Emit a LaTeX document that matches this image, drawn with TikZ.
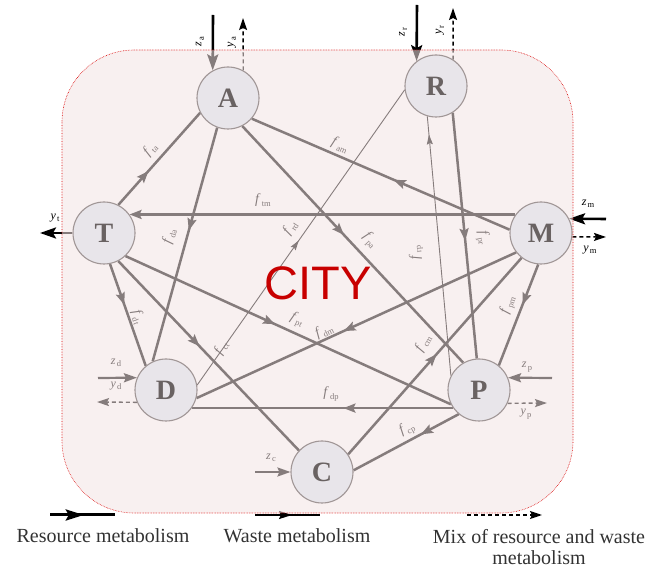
\documentclass[tikz,border=0pt]{standalone}
\usepackage{fontspec}
\setmainfont{Liberation Serif}
\newfontfamily\citysans{Liberation Sans}
\usetikzlibrary{arrows.meta,decorations.markings}

\pgfdeclarelayer{haze}
\pgfdeclarelayer{top}
\pgfsetlayers{main,haze,top}

\definecolor{hazefill}{RGB}{243,227,227}
\definecolor{nodefill}{RGB}{232,229,234}
\definecolor{nodeedge}{RGB}{160,150,150}
\definecolor{nodetext}{RGB}{105,98,98}
\definecolor{cityred}{RGB}{200,0,0}
\definecolor{legendtext}{RGB}{50,50,50}

% italic symbol with a lowered small subscript
\newcommand\flw[2]{\textit{#1}\kern1.2pt\raisebox{-0.45ex}{\fontsize{8.5}{9}\selectfont #2}}

\tikzset{
  sector/.style={circle, minimum size=62pt, inner sep=0pt, draw=nodeedge,
    fill=nodefill, line width=1.1pt,
    font=\fontsize{28}{28}\selectfont\bfseries, text=nodetext},
  flow/.style={line width=2.5pt, black},
  thinflow/.style={line width=0.9pt, black},
  midarrow/.style={postaction={decorate}, decoration={markings,
    mark=at position #1 with {\arrow{Stealth[length=12pt,width=9pt,inset=2pt]}}}},
  thinarrow/.style={postaction={decorate}, decoration={markings,
    mark=at position #1 with {\arrow{Stealth[length=10pt,width=6pt,inset=1.5pt]}}}},
  resarrow/.style={line width=2.6pt, black, -{Stealth[length=16pt,width=11pt,inset=3pt]}},
  inarrow/.style={line width=2.2pt, black, -{Stealth[length=13pt,width=9pt,inset=2pt]}},
  mixarrow/.style={line width=1.4pt, black, dash pattern=on 4pt off 3pt,
    -{Stealth[length=12pt,width=8pt,inset=2pt]}},
  lbl/.style={font=\fontsize{14}{14}\selectfont, inner sep=0pt, black},
  extlbl/.style={font=\fontsize{12}{12}\selectfont, inner sep=0pt, black},
  legend/.style={font=\fontsize{20}{21}\selectfont, text=legendtext, inner sep=0pt, align=center},
}

\begin{document}
\begin{tikzpicture}[x=1pt, y=-1pt]
\useasboundingbox (0,0) rectangle (649,569);

% city sectors
\begin{pgfonlayer}{top}
  \node[sector] (A) at (228,98) {A};
  \node[sector] (R) at (436,86) {R};
  \node[sector] (T) at (104,233) {T};
  \node[sector] (M) at (541,233) {M};
  \node[sector] (D) at (166,390) {D};
  \node[sector] (P) at (479,390) {P};
  \node[sector] (C) at (322,472) {C};
\end{pgfonlayer}

% internal flows
\draw[flow, midarrow=0.37] (T.63) -- (A.208);
\draw[flow, midarrow=0.44] (A.250) -- (D.115);
\draw[flow, midarrow=0.45] (M.174) -- (A.319);
\draw[flow, -{Stealth[length=12pt,width=9pt,inset=2pt]}] (M.144) -- (T.36);
\draw[flow, midarrow=0.46] (A.297) -- (P.120);
\draw[thinflow, thinarrow=0.49] (D.9) -- (R.187);
\draw[thinflow, thinarrow=0.93] (P.153) -- (R.254);
\draw[flow, midarrow=0.52] (R.302) -- (P.94);
\draw[flow, midarrow=0.40] (T.281) -- (D.130);
\draw[flow, midarrow=0.45] (T.297) -- (C.137);
\draw[flow, midarrow=0.46] (T.313) -- (P.207);
\draw[flow, midarrow=0.54] (M.218) -- (D.345);
\draw[flow, midarrow=0.51] (C.34) -- (M.232);
\draw[flow, midarrow=0.36] (P.230) -- (C.3);
\draw[flow, midarrow=0.40] (M.265) -- (P.51);
\draw[flow, midarrow=0.42] (P.215) -- (D.325);

% flow labels
\node[lbl, rotate=48]  (lta) at (150,149) {\flw{f}{ta}};
\node[lbl, rotate=74]  (lda) at (169,236) {\flw{f}{da}};
\node[lbl, rotate=-23] (lam) at (340,145) {\flw{f}{am}};
\node[lbl]             (ltm) at (263,200) {\flw{f}{tm}};
\node[lbl, rotate=-47] (lpa) at (370,240) {\flw{f}{pa}};
\node[lbl, rotate=55]  (lrd) at (290,228) {\flw{f}{rd}};
\node[lbl, rotate=95]  (lrp) at (416,253) {\flw{f}{rp}};
\node[lbl, rotate=-80] (lpr) at (483,238) {\flw{f}{pr}};
\node[lbl, rotate=-72] (ldt) at (138,317) {\flw{f}{dt}};
\node[lbl, rotate=60]  (lct) at (221,348) {\flw{f}{ct}};
\node[lbl, rotate=-25] (lpt) at (297,320) {\flw{f}{pt}};
\node[lbl, rotate=25]  (ldm) at (324,331) {\flw{f}{dm}};
\node[lbl]             (ldp) at (331,394) {\flw{f}{dp}};
\node[lbl, rotate=60]  (lcm) at (423,343) {\flw{f}{cm}};
\node[lbl, rotate=28]  (lcp) at (407,429) {\flw{f}{cp}};
\node[lbl, rotate=72]  (lpm) at (508,305) {\flw{f}{pm}};

% exchanges with the outside
\coordinate (za) at (213,15);
\coordinate (ya) at (243,18);
\coordinate (zr) at (417,5);
\coordinate (yr) at (453,8);
\coordinate (zm) at (606,219);
\coordinate (ym) at (606,237);
\coordinate (yt) at (40,233);
\coordinate (zd) at (98,378);
\coordinate (yd) at (97,402);
\coordinate (zc) at (255,472);
\coordinate (zp) at (552,378);
\coordinate (yp) at (547,403);

\draw[resarrow] (za) -- (A.119);
\draw[mixarrow] (A.61) -- (ya);
\draw[resarrow] (zr) -- (R.128);
\draw[mixarrow] (R.57) -- (yr);
\draw[resarrow] (zm) -- (M.27);
\draw[mixarrow] (M.353) -- (ym);
\draw[resarrow] (T.180) -- (yt);
\draw[inarrow] (zd) -- (D.157);
\draw[mixarrow] (D.203) -- (yd);
\draw[inarrow] (zc) -- (C.180);
\draw[inarrow] (zp) -- (P.23);
\draw[mixarrow] (P.335) -- (yp);

\node[extlbl, rotate=90] (lza) at (200,42) {\flw{z}{a}};
\node[extlbl, rotate=90] (lya) at (232,42) {\flw{y}{a}};
\node[extlbl, rotate=90] (lzr) at (403,32) {\flw{z}{r}};
\node[extlbl, rotate=90] (lyr) at (440,30) {\flw{y}{r}};
\node[extlbl] (lzm) at (588,204) {\flw{z}{m}};
\node[extlbl] (lym) at (590,250) {\flw{y}{m}};
\node[extlbl] (lyt) at (55,218) {\flw{y}{t}};
\node[extlbl] (lzd) at (116,363) {\flw{z}{d}};
\node[extlbl] (lyd) at (116,386) {\flw{y}{d}};
\node[extlbl] (lzc) at (271,458) {\flw{z}{c}};
\node[extlbl] (lzp) at (527,367) {\flw{z}{p}};
\node[extlbl] (lyp) at (526,414) {\flw{y}{p}};

% city boundary, washed over everything inside it
\begin{pgfonlayer}{haze}
  \fill[hazefill, fill opacity=0.55, rounded corners=72pt] (62,50) rectangle (573,513);
\end{pgfonlayer}
\begin{pgfonlayer}{top}
  \draw[red!85!black, densely dotted, line width=0.6pt, rounded corners=72pt] (62,50) rectangle (573,513);
  \node[font=\citysans\fontsize{47}{47}\selectfont, text=cityred, inner sep=0pt] (city) at (318,283) {CITY};
\end{pgfonlayer}

% legend
\coordinate (res0) at (50,515);   \coordinate (res1) at (115,515);
\coordinate (was0) at (255,515);  \coordinate (was1) at (320,515);
\coordinate (mix0) at (467,515);  \coordinate (mix1) at (542,515);
\draw[line width=3pt, black, postaction={decorate}, decoration={markings,
  mark=at position 0.52 with {\arrow{Stealth[length=18pt,width=11pt,inset=3pt]}}}] (res0) -- (res1);
\draw[line width=1.8pt, black, postaction={decorate}, decoration={markings,
  mark=at position 0.57 with {\arrow{Stealth[length=13pt,width=8pt,inset=2pt]}}}] (was0) -- (was1);
\draw[mixarrow] (mix0) -- (mix1);
\node[legend] (lres) at (103,536) {Resource metabolism};
\node[legend] (lwas) at (297,536) {Waste metabolism};
\node[legend] (lmix) at (539,547) {Mix of resource and waste\\metabolism};
\end{tikzpicture}
\end{document}
